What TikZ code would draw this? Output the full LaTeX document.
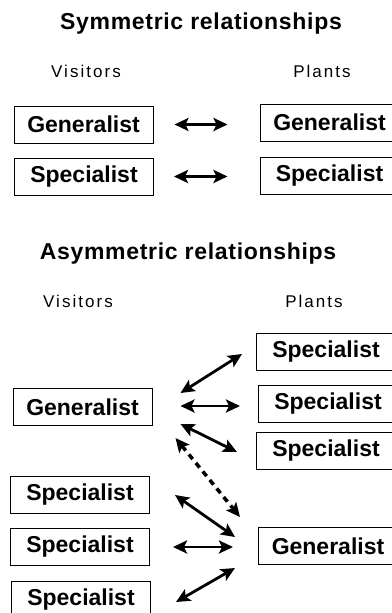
\documentclass[tikz,border=0pt]{standalone}
\usepackage{fontspec}
\setmainfont{Liberation Sans}
\newfontfamily\sidefont[LetterSpace=12]{Liberation Sans}
\newfontfamily\headfont[LetterSpace=3]{Liberation Sans}
\usetikzlibrary{arrows.meta}

\begin{document}
\begin{tikzpicture}
  [x=1pt,y=-1pt,
   box/.style={draw,line width=1pt,minimum width=139pt,minimum height=37pt,
     inner sep=0pt,font=\fontsize{23}{23}\selectfont\bfseries},
   heading/.style={font=\fontsize{23}{23}\selectfont\headfont\bfseries},
   side/.style={font=\fontsize{17}{17}\selectfont\sidefont},
   rel/.style={{Stealth[length=14pt,width=13pt,inset=3pt]}-{Stealth[length=14pt,width=13pt,inset=3pt]},
     line width=2.8pt},
   weak rel/.style={rel,dash pattern=on 6pt off 5pt,line width=3.5pt}]

  \useasboundingbox (0,0) rectangle (391,613);

  % symmetric
  \node[heading] (symtitle)  at (201,24)    {Symmetric relationships};
  \node[side]    (symvis)    at (86,71)     {Visitors};
  \node[side]    (symplants) at (322,71)    {Plants};
  \node[box]     (symvg)     at (83.5,124.5) {Generalist};
  \node[box]     (symvs)     at (84,176.5)  {Specialist};
  \node[box]     (sympg)     at (329.5,122.5) {Generalist};
  \node[box]     (symps)     at (329.5,175.5) {Specialist};

  \draw[rel] ([shift={(21,0)}]symvg.east) -- ([shift={(-32,2)}]sympg.west);
  \draw[rel] ([shift={(20,0)}]symvs.east) -- ([shift={(-32,1)}]symps.west);

  % asymmetric
  \node[heading] (asytitle)  at (188,254)   {Asymmetric relationships};
  \node[side]    (asyvis)    at (78,301)    {Visitors};
  \node[side]    (asyplants) at (314,301)   {Plants};
  \node[box]     (vg)        at (82.5,407)  {Generalist};
  \node[box]     (vs1)       at (80,495)    {Specialist};
  \node[box]     (vs2)       at (80,547)    {Specialist};
  \node[box]     (vs3)       at (81,600)    {Specialist};
  \node[box]     (ps1)       at (326,352)   {Specialist};
  \node[box]     (ps2)       at (328,404)   {Specialist};
  \node[box]     (ps3)       at (326,451)   {Specialist};
  \node[box]     (pg)        at (328,546)   {Generalist};

  \draw[rel] ([shift={(28,-14)}]vg.east) -- ([shift={(-14,2)}]ps1.west);
  \draw[rel] ([shift={(28,-1)}]vg.east)  -- ([shift={(-18,2)}]ps2.west);
  \draw[rel] ([shift={(28,17)}]vg.east)  -- ([shift={(-19,1)}]ps3.west);
  \draw[weak rel] ([shift={(23,31)}]vg.east) -- ([shift={(-18,-29)}]pg.west);
  \draw[rel] ([shift={(25,0)}]vs1.east) -- ([shift={(-23,-9)}]pg.west);
  \draw[rel] ([shift={(23,0)}]vs2.east) -- ([shift={(-25,1)}]pg.west);
  \draw[rel] ([shift={(25,2)}]vs3.east) -- ([shift={(-23,22)}]pg.west);
\end{tikzpicture}
\end{document}
